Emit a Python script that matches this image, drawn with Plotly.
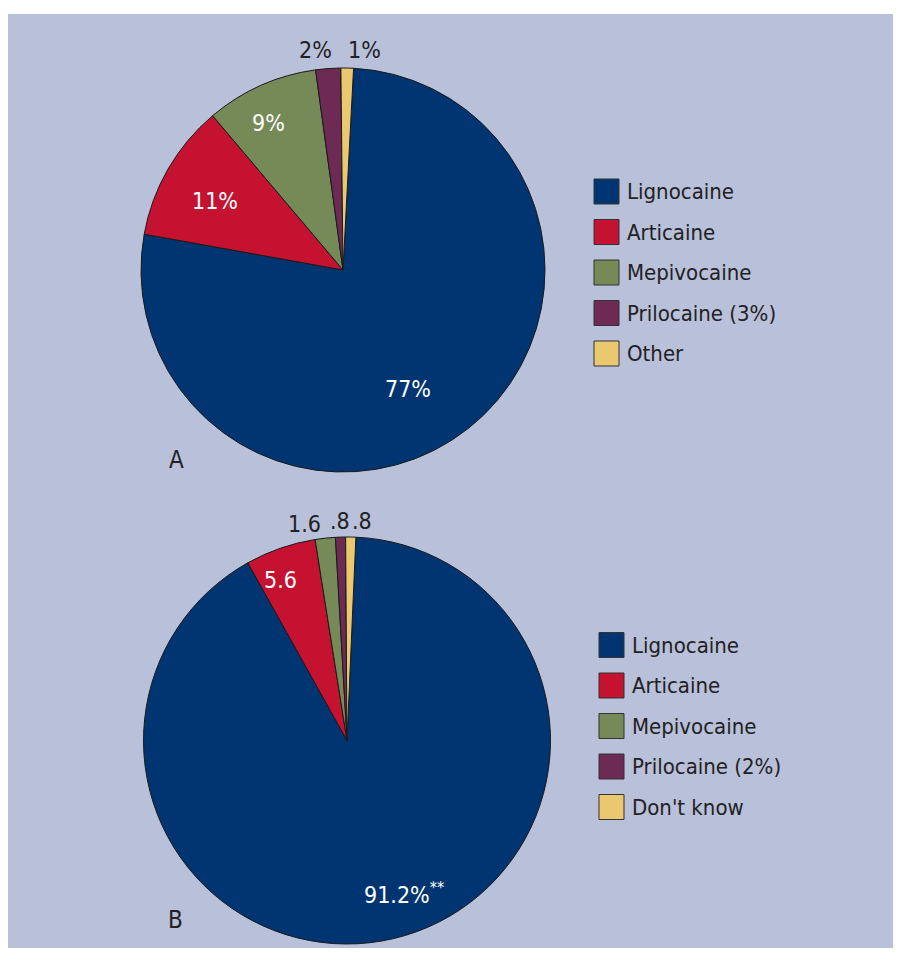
import plotly.graph_objects as go

# page has an 8px body margin, so the figure is a bit smaller than the window
W, H = 885, 940
OFF = 8

# chart A
labels_a = ["Lignocaine", "Articaine", "Mepivocaine", "Prilocaine (3%)", "Other"]
values_a = [77, 11, 9, 2, 1]
text_a = ["77%", "11%", "9%", "2%", "1%"]

# chart B
labels_b = ["Lignocaine", "Articaine", "Mepivocaine", "Prilocaine (2%)", "Don't know"]
values_b = [91.2, 5.6, 1.6, 0.8, 0.8]
text_b = ["91.2%<sup>**</sup>", "5.6", "1.6", ".8", ".8"]

colors = ["#003572", "#c41230", "#768a58", "#6c2a55", "#eac86f"]
bg = "#b8c0da"

num_font = "DejaVu Sans Condensed, Liberation Sans Narrow, sans-serif"
leg_font = "DejaVu Sans Condensed, Liberation Sans Narrow, sans-serif"


def px(x, y):
    # screen pixel position -> paper coords
    return (x - OFF) / W, 1 - (y - OFF) / H


fig = go.Figure()

x0, y1 = px(141, 68)
x1, y0 = px(545, 472)
fig.add_trace(go.Pie(
    labels=labels_a, values=values_a, sort=False, direction="clockwise",
    rotation=3, textinfo="none", hoverinfo="label+value",
    marker=dict(colors=colors, line=dict(color="#1a1a1a", width=1)),
    domain=dict(x=[x0, x1], y=[y0, y1]), showlegend=False,
))

x0, y1 = px(143, 537)
x1, y0 = px(551, 944)
fig.add_trace(go.Pie(
    labels=labels_b, values=values_b, sort=False, direction="clockwise",
    rotation=2.5, textinfo="none", hoverinfo="label+value",
    marker=dict(colors=colors, line=dict(color="#1a1a1a", width=1)),
    domain=dict(x=[x0, x1], y=[y0, y1]), showlegend=False,
))

# background panel
fig.add_shape(type="rect", xref="paper", yref="paper", layer="below",
              x0=0, x1=1, y0=0, y1=px(0, 14)[1],
              fillcolor=bg, line=dict(width=0))

# slice labels (pixel spots)
spots_a = [(408, 389, "white"), (215, 201, "white"), (268, 123, "white"),
           (315, 50, "#222"), (364, 50, "#222")]
spots_b = [(404, 893, "white"), (280, 580, "white"), (304, 524, "#222"),
           (340, 521, "#222"), (362, 521, "#222")]
for txt, (x, y, c) in list(zip(text_a, spots_a)) + list(zip(text_b, spots_b)):
    ax, ay = px(x, y)
    fig.add_annotation(x=ax, y=ay, xref="paper", yref="paper", text=txt,
                       showarrow=False, xanchor="center", yanchor="middle",
                       font=dict(family=num_font, size=23, color=c))

# panel letters
for letter, (x, y) in [("A", (176, 460)), ("B", (175, 920))]:
    ax, ay = px(x, y)
    fig.add_annotation(x=ax, y=ay, xref="paper", yref="paper", text=letter,
                       showarrow=False, xanchor="center", yanchor="middle",
                       font=dict(family=num_font, size=24, color="#222"))

# hand-drawn legends with big square swatches
for labels, sx, sy in [(labels_a, 594, 191.5), (labels_b, 599, 645)]:
    for i, (lab, col) in enumerate(zip(labels, colors)):
        cy = sy + i * 40.5
        ax0, ay0 = px(sx, cy + 12.5)
        ax1, ay1 = px(sx + 25, cy - 12.5)
        fig.add_shape(type="rect", xref="paper", yref="paper",
                      x0=ax0, x1=ax1, y0=ay0, y1=ay1,
                      fillcolor=col, line=dict(color="#333", width=1))
        ax, ay = px(sx + 31, cy)
        fig.add_annotation(x=ax, y=ay, xref="paper", yref="paper", text=lab,
                           showarrow=False, xanchor="left", yanchor="middle",
                           font=dict(family=leg_font, size=22, color="#222"))

fig.update_layout(
    width=W, height=H, margin=dict(l=0, r=0, t=0, b=0),
    paper_bgcolor="white", plot_bgcolor="white",
)

fig.write_html("out.html")
